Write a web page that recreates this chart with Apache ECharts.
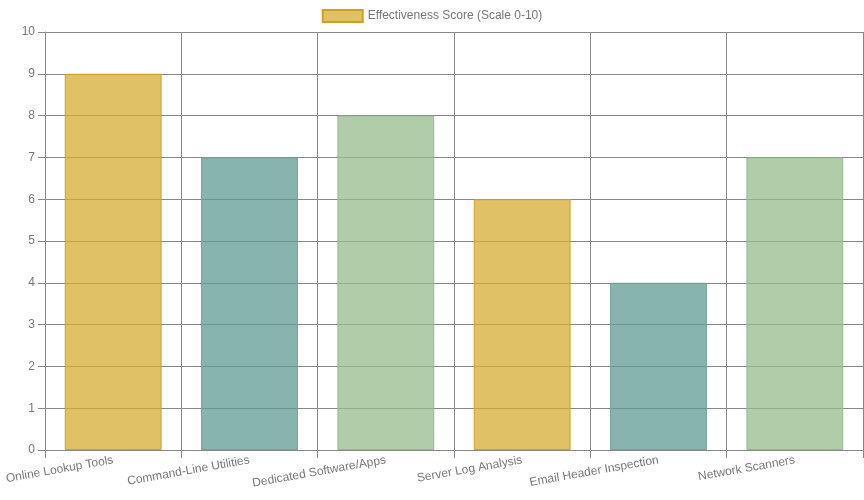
<!DOCTYPE html>
<html>
<head>
<meta charset="utf-8">
<script src="https://cdn.jsdelivr.net/npm/echarts@6/dist/echarts.min.js"></script>
<style>
  html, body { margin: 0; padding: 0; background: #fff; }
  #main { width: 864px; height: 500px; }
</style>
</head>
<body>
<div id="main"></div>
<script>
var categories = ['Online Lookup Tools', 'Command-Line Utilities', 'Dedicated Software/Apps',
  'Server Log Analysis', 'Email Header Inspection', 'Network Scanners'];
var scores = [9, 7, 8, 6, 4, 7];
var seriesName = 'Effectiveness Score (Scale 0-10)';

var fills = ['rgba(214,172,51,0.75)', 'rgba(96,155,147,0.75)', 'rgba(151,187,139,0.75)'];
var borders = ['#d4a017', '#6fa39c', '#8fbc8f'];

var myChart = echarts.init(document.getElementById('main'));

var barData = scores.map(function (v, i) {
  return {
    value: v,
    itemStyle: { color: fills[i % 3], borderColor: borders[i % 3] }
  };
});

var option = {
  backgroundColor: '#ffffff',
  animation: false,
  textStyle: { fontFamily: 'Liberation Sans, Helvetica, Arial, sans-serif' },
  legend: {
    top: 4,
    icon: 'rect',
    itemWidth: 40,
    itemHeight: 12,
    itemGap: 6,
    textStyle: { color: '#777', fontSize: 12 },
    data: [seriesName]
  },
  grid: { left: 45, right: 1, top: 32, bottom: 50, containLabel: false },
  xAxis: {
    type: 'category',
    data: categories,
    axisLine: { lineStyle: { color: '#888' } },
    axisTick: { show: true, length: 8, lineStyle: { color: '#888' } },
    splitLine: { show: true, lineStyle: { color: '#888' } },
    axisLabel: { color: '#777', fontSize: 12, rotate: 10, margin: 10, interval: 0 }
  },
  yAxis: {
    type: 'value',
    min: 0,
    max: 10,
    interval: 1,
    axisLine: { show: true, lineStyle: { color: '#888' } },
    axisTick: { show: true, length: 7, lineStyle: { color: '#888' } },
    splitLine: { lineStyle: { color: '#888' } },
    axisLabel: { color: '#777', fontSize: 12, margin: 10 }
  },
  series: [{
    name: seriesName,
    type: 'bar',
    barWidth: '71%',
    itemStyle: { color: fills[0], borderColor: borders[0], borderWidth: 1 },
    data: barData
  }]
};

myChart.setOption(option);
</script>
</body>
</html>
